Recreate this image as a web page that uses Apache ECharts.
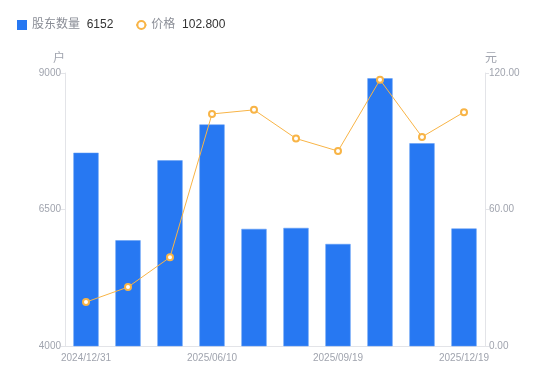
<!DOCTYPE html>
<html><head><meta charset="utf-8">
<script src="https://cdn.jsdelivr.net/npm/echarts@6/dist/echarts.min.js"></script>
<style>html,body{margin:0;padding:0;background:#fff}#c{width:550px;height:381px}</style>
</head><body><div id="c"></div>
<script>
const categories = ['2024/12/31','2025/03/10','2025/03/31','2025/06/10','2025/06/30','2025/08/29','2025/09/19','2025/10/31','2025/11/28','2025/12/19'];
const holders = [7540, 5936, 7400, 8057, 6145, 6163, 5869, 8903, 7713, 6152];
const prices = [19.3, 25.9, 39.0, 102.0, 103.8, 91.2, 85.7, 117.0, 91.9, 102.8];
const leftTicks = [4000, 6500, 9000];
const rightTicks = [0, 60, 120];

const chart = echarts.init(document.getElementById('c'));
const lastVals = {'股东数量': String(holders[holders.length-1]), '价格': prices[prices.length-1].toFixed(3)};
const axisLabelColor = '#a0a4ae';
const axisLineColor = '#e3e4e8';
const ff = '"Liberation Sans","Noto Sans CJK SC",sans-serif';
chart.setOption({
  animation: false,
  textStyle: {fontFamily: ff},
  legend: {
    left: 12, top: 14, itemWidth: 10, itemHeight: 10, itemGap: 22,
    formatter: function (n) { return '{n|' + n + '}  {v|' + lastVals[n] + '}'; },
    textStyle: {fontFamily: ff, rich: {n: {color: '#8a8d96', fontSize: 12, fontFamily: ff}, v: {color: '#333', fontSize: 12, fontFamily: ff}}},
    data: [
      {name: '股东数量', icon: 'rect', itemStyle: {borderWidth: 0, color: '#2778f2'}},
      {name: '价格', itemStyle: {borderWidth: 2, borderColor: '#f8b446', color: '#fff'}}
    ]
  },
  grid: {left: 65, right: 65, top: 73, bottom: 35},
  xAxis: {
    type: 'category', data: categories,
    axisLine: {lineStyle: {color: axisLineColor}},
    axisTick: {show: false},
    axisLabel: {color: axisLabelColor, fontSize: 10, interval: 2, margin: 7, fontFamily: ff}
  },
  yAxis: [{
    type: 'value', name: '户', min: leftTicks[0], max: leftTicks[2], interval: 2500,
    nameTextStyle: {color: axisLabelColor, fontSize: 12, align: 'right', fontFamily: ff},
    nameGap: 8,
    axisLine: {show: true, lineStyle: {color: axisLineColor}},
    axisTick: {show: true, length: 4, lineStyle: {color: axisLineColor}},
    splitLine: {show: false},
    axisLabel: {color: axisLabelColor, fontSize: 10, margin: 4, fontFamily: ff, formatter: v => String(v)}
  }, {
    type: 'value', name: '元', min: rightTicks[0], max: rightTicks[2], interval: 60,
    nameTextStyle: {color: axisLabelColor, fontSize: 12, align: 'left', fontFamily: ff},
    nameGap: 8,
    axisLine: {show: true, lineStyle: {color: axisLineColor}},
    axisTick: {show: true, length: 4, lineStyle: {color: axisLineColor}},
    splitLine: {show: false},
    axisLabel: {color: axisLabelColor, fontSize: 10, margin: 4, fontFamily: ff, formatter: v => v.toFixed(2)}
  }],
  series: [{
    name: '股东数量', type: 'bar', data: holders, yAxisIndex: 0, barWidth: '60%',
    itemStyle: {color: '#2778f2', borderColor: '#5e9af5', borderWidth: 0.5}
  }, {
    name: '价格', type: 'line', data: prices, yAxisIndex: 1,
    symbol: 'circle', symbolSize: 6,
    lineStyle: {color: '#f8b446', width: 1},
    itemStyle: {color: '#fff', borderColor: '#f8b446', borderWidth: 2}
  }]
});
</script></body></html>
